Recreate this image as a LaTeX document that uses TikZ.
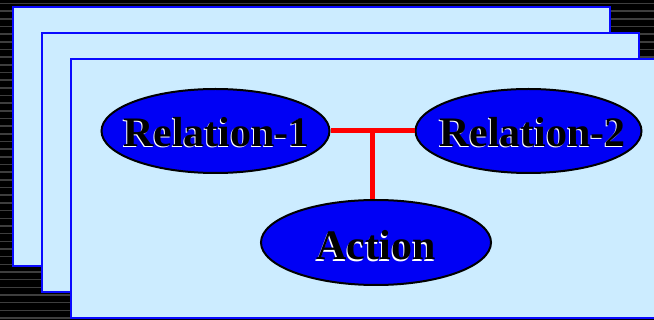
\documentclass[tikz,border=0pt]{standalone}
\usepackage{fontspec}
\setmainfont{Liberation Serif}
\usetikzlibrary{shapes.geometric}
\definecolor{sheet}{RGB}{204,236,255}
\definecolor{sheetedge}{RGB}{10,10,255}
\definecolor{bubble}{RGB}{0,0,245}
\definecolor{stripe}{RGB}{62,62,62}
\tikzset{
  sheetbox/.style={fill=sheet, draw=sheetedge, line width=2.4pt},
  bubblenode/.style={ellipse, fill=bubble, draw=black, line width=2pt, inner sep=0pt},
  labeltext/.style={font=\bfseries\fontsize{42}{42}\selectfont, anchor=base, inner sep=0pt},
  labelshadow/.style={labeltext, text=white},
  link/.style={draw=red, line width=5pt}
}
\begin{document}
\begin{tikzpicture}[x=1pt, y=-1pt]
  \useasboundingbox (0,0) rectangle (654,320);
  \clip (0,0) rectangle (654,320);
  % striped dark backdrop
  \fill[black] (0,0) rectangle (654,320);
  \foreach \i in {0,...,41}
    \draw[stripe, line width=1.5pt] (0,{3.5+7.67*\i}) -- (654,{3.5+7.67*\i});
  % stack of three sheets
  \draw[sheetbox] (13,7) rectangle (610,266);
  \draw[sheetbox] (42,33) rectangle (639,292);
  \draw[sheetbox] (71,59) rectangle (670,318);
  % ellipses
  \node[bubblenode, minimum width=228pt, minimum height=84pt] (r1) at (215.5,131) {};
  \node[bubblenode, minimum width=226pt, minimum height=84pt] (r2) at (528.5,131) {};
  \node[bubblenode, minimum width=230pt, minimum height=85pt] (act) at (376,242.5) {};
  % connectors
  \coordinate (joint) at (372,131);
  \draw[link] (r1.east) -- (r2.west);
  \draw[link] (joint) -- (joint |- act.north);
  % labels with a light offset shadow
  \node[labelshadow] (r1s) at (215.5,148) {Relation-1};
  \node[labeltext] (r1t) at (216.5,146.7) {Relation-1};
  \node[labelshadow] (r2s) at (531.5,148) {Relation-2};
  \node[labeltext] (r2t) at (532.5,146.7) {Relation-2};
  \node[labelshadow] (acts) at (375,261.3) {Action};
  \node[labeltext] (actt) at (376,260) {Action};
\end{tikzpicture}
\end{document}
